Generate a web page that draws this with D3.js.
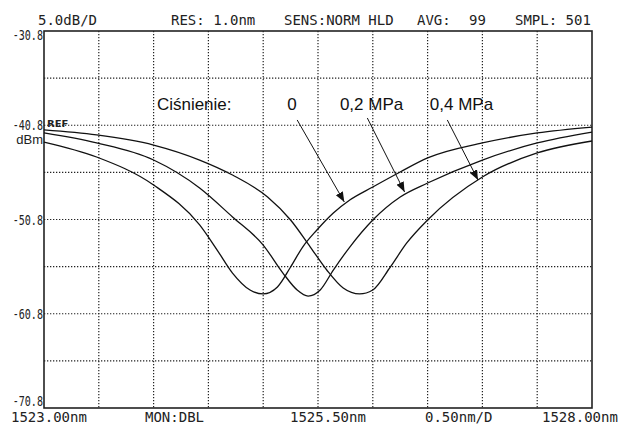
<!DOCTYPE html>
<html lang="pl">
<head>
<meta charset="UTF-8"/>
<title>Widmo - ciśnienie</title>
<style>
  body { margin: 0; background: #fff; }
  svg { display: block; }
  .osa { font-family: "DejaVu Sans Mono", monospace; font-size: 14px; fill: #222; }
  .ylab { font-family: "DejaVu Sans Mono", monospace; font-size: 14px; fill: #222; }
  .note { font-family: "Liberation Sans", Arial, sans-serif; font-size: 17px; fill: #111; }
  .grid line { stroke: #222; stroke-width: 1.2; stroke-dasharray: 1.3,1.7; }
  .trace { fill: none; stroke: #111; stroke-width: 1.3; }
</style>
</head>
<body>
<svg width="620" height="426"></svg>
<script src="https://cdn.jsdelivr.net/npm/d3@7"></script>
<script>
// widmo dla trzech wartości ciśnienia (odczyt z ekranu OSA)
const pressures = ["0", "0,2 MPa", "0,4 MPa"];

const wl0 = [1523.0, 1523.48, 1524.0, 1524.42, 1524.58, 1524.72, 1524.88, 1525.0, 1525.13, 1525.25, 1525.36, 1525.49, 1525.64, 1525.79, 1526.0, 1526.25, 1526.5, 1527.0, 1527.5, 1528.0];
const db0 = [-42.58, -44.17, -47.14, -51.38, -54.04, -56.48, -58.28, -58.70, -57.96, -55.84, -53.72, -51.91, -50.11, -48.73, -47.35, -45.76, -44.27, -42.68, -41.62, -40.99];

const wl2 = [1523.0, 1523.48, 1524.0, 1524.42, 1524.72, 1525.0, 1525.18, 1525.31, 1525.41, 1525.52, 1525.64, 1525.79, 1526.0, 1526.25, 1526.5, 1527.0, 1527.5, 1528.0];
const db2 = [-41.62, -42.68, -44.49, -47.46, -50.53, -53.51, -56.48, -58.28, -58.92, -58.28, -56.16, -53.72, -50.85, -48.41, -46.93, -44.49, -42.68, -41.52];

const wl4 = [1523.0, 1523.48, 1524.0, 1524.42, 1524.72, 1525.04, 1525.25, 1525.43, 1525.58, 1525.73, 1525.88, 1526.0, 1526.16, 1526.31, 1526.5, 1527.0, 1527.5, 1528.0];
const db4 = [-41.30, -41.83, -42.90, -44.49, -46.08, -48.41, -50.85, -53.72, -56.16, -58.07, -58.70, -58.28, -55.84, -53.29, -50.85, -46.29, -43.74, -42.47];

const yTicks = [-30.8, -40.8, -50.8, -60.8, -70.8];

// strzałki: [x1, y1, x2, y2] w nm / dBm
const arrows = [
  [1525.31, -40.24, 1525.74, -48.94],
  [1525.95, -40.03, 1526.29, -47.88],
  [1526.68, -40.24, 1526.96, -46.61]
];
const labelX = [1525.22, 1525.70, 1526.52];

const svg = d3.select("svg");
const pLeft = 44, pRight = 592, pTop = 31, pBottom = 408;

const x = d3.scaleLinear().domain([1523, 1528]).range([pLeft, pRight]);
const y = d3.scaleLinear().domain([-70.8, -30.8]).range([pBottom, pTop]);

// siatka
const grid = svg.append("g").attr("class", "grid");
grid.selectAll(".v").data(d3.range(1523.5, 1528, 0.5)).enter().append("line")
  .attr("x1", d => x(d)).attr("x2", d => x(d))
  .attr("y1", pTop).attr("y2", pBottom);
grid.selectAll(".h").data(d3.range(-35.8, -70.8, -5)).enter().append("line")
  .attr("x1", pLeft).attr("x2", pRight)
  .attr("y1", d => y(d)).attr("y2", d => y(d));

// ramka
svg.append("rect")
  .attr("x", pLeft).attr("y", pTop)
  .attr("width", pRight - pLeft).attr("height", pBottom - pTop)
  .attr("fill", "none").attr("stroke", "#222").attr("stroke-width", 1.6);

// krzywe
const line = d3.line()
  .x(d => x(d[0])).y(d => y(d[1]))
  .curve(d3.curveMonotoneX);

[[wl0, db0], [wl2, db2], [wl4, db4]].forEach(([w, p]) => {
  svg.append("path")
    .attr("class", "trace")
    .attr("d", line(d3.zip(w, p)));
});

// opisy osi Y (waski font -> skalowanie w poziomie)
svg.selectAll(".ylab").data(yTicks).enter().append("text")
  .attr("class", "ylab")
  .attr("transform", (d, i) => {
    const ty = i == 0 ? y(d) + 9 : i == yTicks.length - 1 ? y(d) - 2 : y(d) + 5;
    return `translate(${pLeft - 1}, ${ty}) scale(0.72, 1)`;
  })
  .attr("text-anchor", "end")
  .text(d => d.toFixed(1));

svg.append("text")
  .attr("x", pLeft - 1).attr("y", y(-40.8) + 19)
  .attr("text-anchor", "end")
  .style("font-family", "Liberation Sans, Arial, sans-serif")
  .style("font-size", "13px").style("fill", "#222")
  .text("dBm");

svg.append("text")
  .attr("transform", `translate(${pLeft + 3}, ${y(-40.8) + 2}) scale(1.25, 1)`)
  .style("font-family", "DejaVu Sans, sans-serif")
  .style("font-size", "8px").style("font-weight", "bold").style("fill", "#222")
  .text("REF");

// nagłówek
const header = [["5.0dB/D", 38], ["RES: 1.0nm", 171], ["SENS:NORM HLD", 284], ["AVG:", 417], ["99", 469], ["SMPL: 501", 515]];
svg.selectAll(".hdr").data(header).enter().append("text")
  .attr("class", "osa")
  .attr("x", d => d[1]).attr("y", 25)
  .text(d => d[0]);

// stopka
const footer = [["1523.00nm", 11], ["MON:DBL", 145], ["1525.50nm", 290], ["0.50nm/D", 425], ["1528.00nm", 542]];
svg.selectAll(".ftr").data(footer).enter().append("text")
  .attr("class", "osa")
  .attr("x", d => d[1]).attr("y", 422)
  .text(d => d[0]);

// adnotacje
const defs = svg.append("defs");
defs.append("marker")
  .attr("id", "head").attr("viewBox", "0 0 10 10")
  .attr("refX", 10).attr("refY", 5)
  .attr("markerWidth", 10).attr("markerHeight", 10)
  .attr("markerUnits", "userSpaceOnUse")
  .attr("orient", "auto")
  .append("path").attr("d", "M0,1 L10,5 L0,9 Z").attr("fill", "#111");

svg.selectAll(".arrow").data(arrows).enter().append("line")
  .attr("x1", d => x(d[0])).attr("y1", d => y(d[1]))
  .attr("x2", d => x(d[2])).attr("y2", d => y(d[3]))
  .attr("stroke", "#111").attr("stroke-width", 1)
  .attr("marker-end", "url(#head)");

svg.append("text").attr("class", "note")
  .attr("x", x(1524.03)).attr("y", y(-39.18))
  .text("Ciśnienie:");

svg.selectAll(".plab").data(pressures).enter().append("text")
  .attr("class", "note")
  .attr("x", (d, i) => x(labelX[i])).attr("y", y(-39.18))
  .text(d => d);
</script>
</body>
</html>
